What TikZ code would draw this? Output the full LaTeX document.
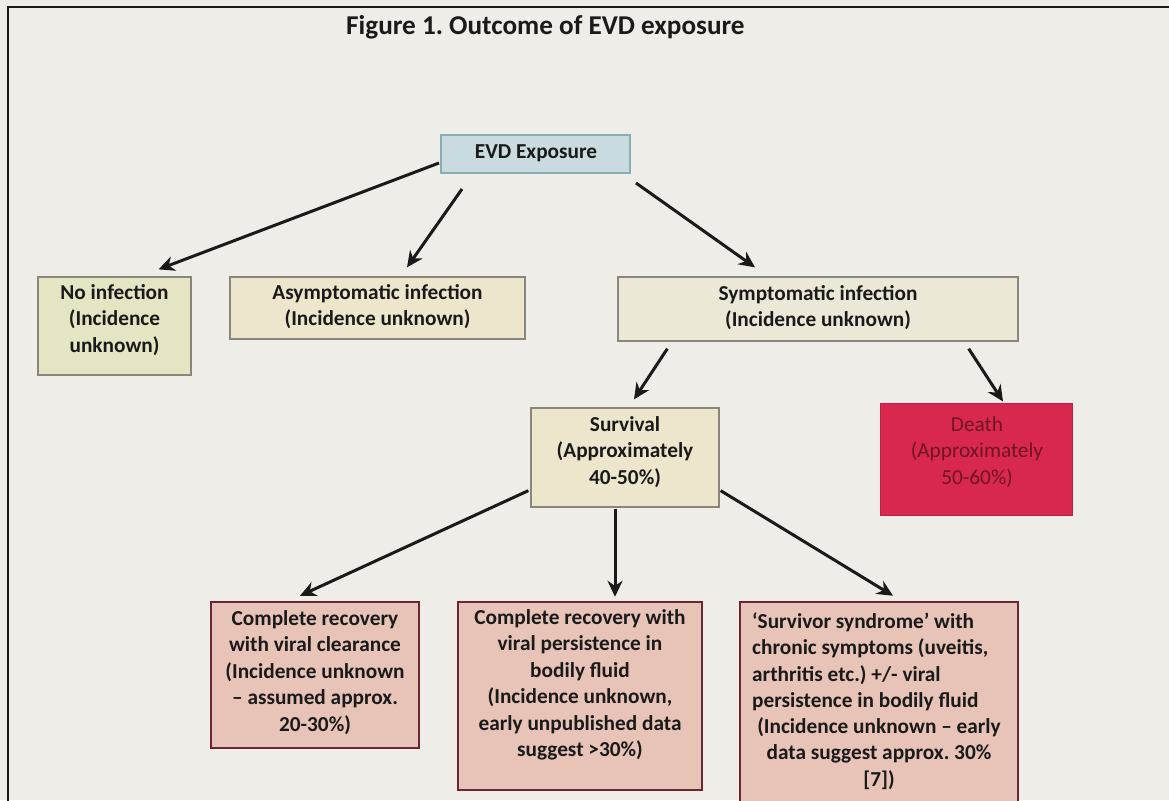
\documentclass[tikz,border=0pt]{standalone}
\usepackage{fontspec}
\setmainfont{Carlito}
\frenchspacing
\usetikzlibrary{arrows.meta,calc}
\definecolor{bgc}{HTML}{EEEDE7}
\definecolor{evdfill}{HTML}{C9DBDE}
\definecolor{evddraw}{HTML}{86AEB5}
\definecolor{greenfill}{HTML}{E5E4C3}
\definecolor{beigefill}{HTML}{ECE6CD}
\definecolor{symfill}{HTML}{ECE8D8}
\definecolor{graydraw}{HTML}{8A867C}
\definecolor{deathfill}{HTML}{D8284F}
\definecolor{deathtext}{HTML}{701426}
\definecolor{pinkfill}{HTML}{E8C3B7}
\definecolor{pinkdraw}{HTML}{6A2632}
\definecolor{ink}{HTML}{1A1A1A}
\begin{document}
\begin{tikzpicture}[x=1pt,y=-1pt,
  box/.style={rectangle, inner sep=0pt},
  beigebox/.style={box, fill=beigefill, draw=graydraw, line width=1.3pt},
  pinkbox/.style={box, fill=pinkfill, draw=pinkdraw, line width=2.5pt},
  txt/.style={font=\bfseries\fontsize{21.3}{26.5}\selectfont, align=center, inner sep=0pt, text=ink},
  arr/.style={line width=3pt, draw=ink, -{Stealth[length=16pt,width=15pt]}}]
\useasboundingbox (0,0) rectangle (1169,800);
\fill[bgc] (0,0) rectangle (1169,800);
\draw[line width=2.5pt, ink] (8,820) -- (8,7) -- (1190,7);

\node[font=\bfseries\fontsize{27.2}{31}\selectfont, text=ink, anchor=base west, inner sep=0pt] (title) at (346,35) {Figure 1. Outcome of EVD exposure};

% boxes
\node[box, fill=evdfill, draw=evddraw, line width=2pt, minimum width=189pt, minimum height=38pt] (evd) at (535.5,154) {};
\node[box, fill=greenfill, draw=graydraw, line width=1.3pt, minimum width=153pt, minimum height=98pt] (noinf) at (114.5,326) {};
\node[beigebox, minimum width=295pt, minimum height=62pt] (asym) at (377.5,308) {};
\node[box, fill=symfill, draw=graydraw, line width=1.3pt, minimum width=400pt, minimum height=64pt] (sym) at (818,309) {};
\node[beigebox, minimum width=188pt, minimum height=99pt] (surv) at (625,457.5) {};
\node[box, fill=deathfill, draw=deathfill!85!black, line width=1pt, minimum width=192pt, minimum height=112pt] (death) at (976,459) {};
\node[pinkbox, minimum width=208pt, minimum height=146pt] (b1) at (315,675) {};
\node[pinkbox, minimum width=244pt, minimum height=188pt] (b2) at (580,696) {};
\node[pinkbox, minimum width=278pt, minimum height=200pt] (b3) at (879,702) {};

% texts
\node[txt] (evdt) at (536,153) {EVD Exposure};
\node[txt] (noinft) at (114.5,320) {No infection\\(Incidence\\unknown)};
\node[txt] (asymt) at (377.5,306.5) {Asymptomatic infection\\(Incidence unknown)};
\node[txt] (symt) at (818,307.5) {Symptomatic infection\\(Incidence unknown)};
\node[txt] (survt) at (625,452) {Survival\\(Approximately\\40-50\%)};
\node[txt, font=\fontsize{21.3}{26.5}\selectfont, text=deathtext] (deatht) at (977,452) {Death\\(Approximately\\50-60\%)};
\node[txt] (b1t) at (315,672.5) {Complete recovery\\with viral clearance\\(Incidence unknown\\– assumed approx.\\20-30\%)};
\node[txt] (b2t) at (580,685) {Complete recovery with\\viral persistence in\\bodily fluid\\(Incidence unknown,\\early unpublished data\\suggest >30\%)};
\node[txt, align=left, anchor=west] (b3ta) at (752,662) {‘Survivor syndrome’ with\\chronic symptoms (uveitis,\\arthritis etc.) +/- viral\\persistence in bodily fluid};
\node[txt] (b3tb) at (879,753.5) {(Incidence unknown – early\\data suggest approx. 30\%\\{[7])}};

% arrows
\draw[arr] ($(evd.west)+(-1,9)$) -- ($(noinf.north)+(44,-7)$);
\draw[arr] ($(evd.south west)+(22,15)$) -- ($(asym.north)+(29.5,-9)$);
\draw[arr] ($(evd.south east)+(5,9)$) -- ($(sym.north)+(-63,-9)$);
\draw[arr] ($(sym.south west)+(50,7)$) -- ($(surv.north)+(9,-8)$);
\draw[arr] ($(sym.south east)+(-50,7)$) -- ($(death.north)+(27,-1)$);
\draw[arr] ($(surv.south west)+(-2,-17)$) -- ($(b1.north)+(-15,-5)$);
\draw[arr] ($(surv.south)+(-10,1)$) -- ($(b2.north)+(35,-4)$);
\draw[arr] ($(surv.south east)+(1,-17)$) -- ($(b3.north)+(14,-5)$);
\end{tikzpicture}
\end{document}
